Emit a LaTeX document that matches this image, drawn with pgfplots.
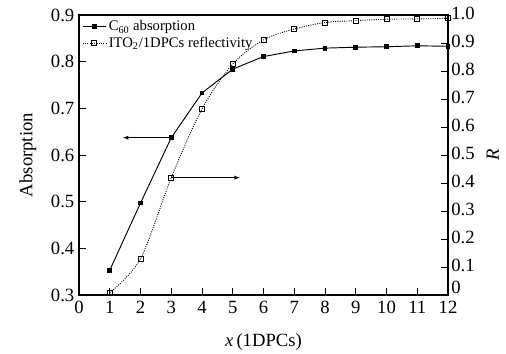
\documentclass[border=0pt]{standalone}
\usepackage{pgfplots}
\pgfplotsset{compat=1.18}
\usepackage{fontspec}
\setmainfont{Liberation Serif}

\begin{document}
\begin{tikzpicture}[x=1pt,y=1pt]
\path[use as bounding box] (-59.25pt,-43.5pt) rectangle (320.25pt,221.25pt);
\pgfplotsset{
  common/.style={
    scale only axis, width=276.75pt, height=210pt,
    xmin=0, xmax=12, xtick={0,...,12},
    tick align=inside, major tick length=5pt,
    every tick/.style={black, line width=0.5pt},
    axis line style={line width=0.8pt},
    tick label style={font=\fontsize{14}{16}\selectfont},
    label style={font=\fontsize{14}{16}\selectfont},
    /pgf/number format/assume math mode=true,
  },
}
% left axis: absorption of C60
\begin{axis}[common,
  ymin=0.3, ymax=0.9, ytick={0.3,0.4,...,0.9},
  yticklabels={0.3,0.4,0.5,0.6,0.7,0.8,0.9},
  xtick pos=bottom, ytick pos=left,
  xticklabel style={yshift=-1pt},
  xlabel={\textit{x}\,(1DPCs)},
  xlabel style={yshift=-8pt},
  ylabel={Absorption},
  ylabel style={yshift=4pt},
  clip=false,
]
\addplot[black, line width=0.7pt, mark=square*, mark size=1.4pt] coordinates {
 (1,0.353) (2,0.497) (3,0.637) (4,0.733) (5,0.784) (6,0.811)
 (7,0.823) (8,0.829) (9,0.831) (10,0.832) (11,0.834) (12,0.833)
};
\draw[-latex, line width=0.4pt] (axis cs:3,0.637) -- (axis cs:1.43,0.637);
\end{axis}
% right axis: reflectivity of ITO2/1DPCs
\begin{axis}[common,
  axis x line=none,
  axis y line*=right,
  ymin=0, ymax=1, ytick={0.1,0.2,...,1.0},
  yticklabels={0.1,0.2,0.3,0.4,0.5,0.6,0.7,0.8,0.9,1.0},
  yticklabel style={yshift=1pt, xshift=-1pt},
  extra y ticks={0}, extra y tick labels={0},
  extra y tick style={yticklabel style={yshift=5pt}},
  ylabel={\textit{R}},
  ylabel style={yshift=-2pt},
  legend style={draw=none, fill=none, at={(0.005,0.995)}, anchor=north west,
    font=\fontsize{11}{12}\selectfont, inner sep=1pt, row sep=-1pt},
  legend cell align=left,
  clip=false,
]
\addlegendimage{black, line width=0.7pt, mark=square*, mark size=1.4pt}
\addlegendentry{C\textsubscript{60} absorption}
\addplot[black, densely dotted, line width=0.7pt, smooth, mark=square, mark size=1.9pt,
  mark options={solid, fill=white}] coordinates {
 (1,0.008) (2,0.129) (3,0.419) (4,0.665) (5,0.825) (6,0.911)
 (7,0.950) (8,0.973) (9,0.980) (10,0.985) (11,0.986) (12,0.988)
};
\addlegendentry{ITO\textsubscript{2}/1DPCs reflectivity}
\draw[-latex, line width=0.4pt] (axis cs:3,0.419) -- (axis cs:5.23,0.419);
\end{axis}
\end{tikzpicture}
\end{document}
